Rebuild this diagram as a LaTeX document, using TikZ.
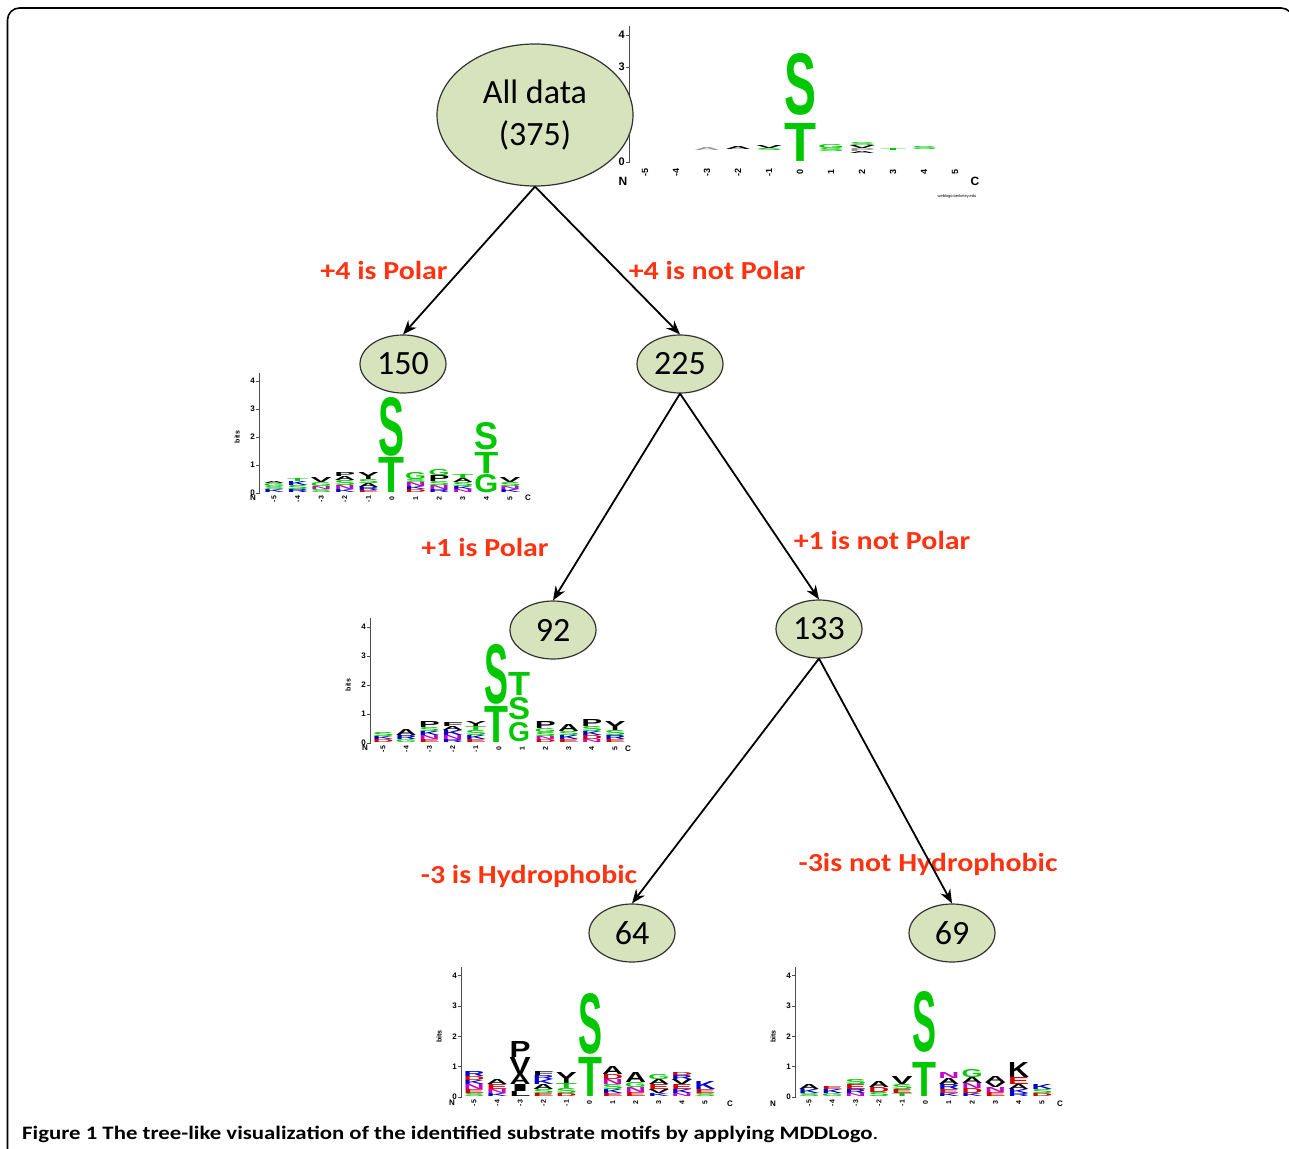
\documentclass[tikz,border=0pt]{standalone}
\usepackage{fontspec}
\setmainfont{Carlito}
\newfontfamily\logof{Liberation Sans}
\usetikzlibrary{shapes.geometric,arrows.meta}
\definecolor{nodefill}{RGB}{215,227,188}
\definecolor{lblred}{RGB}{255,51,17}
\definecolor{lgreen}{RGB}{0,200,0}
\definecolor{lblue}{RGB}{0,0,210}
\definecolor{lred}{RGB}{210,0,0}
\definecolor{lmag}{RGB}{200,0,200}
\definecolor{lgray}{RGB}{150,150,150}
\newcommand\Lg[6]{\node[anchor=south,inner sep=0pt,text=#5] at (#1,#2) {\resizebox{#3pt}{#4pt}{\logof\bfseries #6}};}
\newcommand\stk[4]{\xdef\cury{#2}\foreach \Hh/\Cc/\Ll in {#4}{\node[anchor=south,inner sep=0pt,text=\Cc] at (#1,\cury) {\resizebox{#3pt}{\Hh pt}{\logof\bfseries\Ll}};\pgfmathsetmacro\tmpy{\cury-\Hh}\xdef\cury{\tmpy}}}
\newcommand\logoaxes[6]{%
 \draw[lax] (#1,#2+1) -- (#1,#2-4.3*#3);
 \foreach \k in {0,...,4}{\draw[lax] (#1,#2-\k*#3) -- ++(-3,0);
   \node[tlab] at (#1-4,#2-\k*#3) {\k};}
 \node[blab] at (#1-22,#2-2*#3) {bits};
 \foreach \i [count=\j from 0] in {-5,...,5}{\node[clab] at (#4+\j*#5-5*#5,#2+#6) {\i};}
}
\tikzset{
 lax/.style={line width=0.8pt, draw=black!70},
 tlab/.style={anchor=east, inner sep=0pt, font=\logof\bfseries\fontsize{8}{8}\selectfont},
 blab/.style={rotate=90, inner sep=0pt, font=\logof\bfseries\fontsize{7}{7}\selectfont},
 clab/.style={rotate=90, inner sep=0pt, font=\logof\bfseries\fontsize{7}{7}\selectfont},
 nclab/.style={inner sep=0pt, font=\logof\bfseries\fontsize{8}{8}\selectfont},
 tnode/.style={ellipse, draw=black!80, line width=1.2pt, fill=nodefill, inner sep=0pt, font=\fontsize{34}{42}\selectfont, align=center},
 small/.style={tnode, minimum width=86pt, minimum height=58pt},
 lab/.style={text=lblred, inner sep=0pt, font=\bfseries\fontsize{26}{26}\selectfont},
 arr/.style={-{Stealth[length=14pt,width=11pt]}, line width=1.8pt},
}
\begin{document}
\begin{tikzpicture}[x=1pt,y=-1pt]
\useasboundingbox (0,0) rectangle (1289,1148);
\begin{scope}
\clip (0,0) rectangle (1289,1148);
\draw[line width=1.6pt, rounded corners=12pt] (7.5,8) rectangle (1293,1175);
\end{scope}
% ---------- logo 1 (All data)
\begin{scope}[tlab/.style={anchor=east, inner sep=0pt, font=\logof\bfseries\fontsize{11}{11}\selectfont},
  clab/.style={rotate=90, inner sep=0pt, font=\logof\bfseries\fontsize{9}{9}\selectfont}]
\logoaxes{629}{162}{31.7}{800}{31}{10}
\end{scope}
\node[inner sep=0pt, font=\logof\bfseries\fontsize{12}{12}\selectfont] (n1) at (623,181) {N};
\node[inner sep=0pt, font=\logof\bfseries\fontsize{12}{12}\selectfont] (c1) at (975,181) {C};
\node[inner sep=0pt, font=\logof\fontsize{4}{4}\selectfont] (w1) at (957,196) {weblogo.berkeley.edu};
\stk{707}{151}{26}{3/lgray/A}
\stk{738}{150}{26}{3/black/A}
\stk{769}{151}{26}{2/lgreen/S,3/black/V}
\Lg{800}{162}{32}{38}{lgreen}{T}
\Lg{800}{116}{32}{61}{lgreen}{S}
\stk{831}{152}{26}{3/lgreen/S,4/lgreen/G}
\stk{862}{154}{26}{2/black/A,3/lgray/P,3/black/V,3/lgreen/S}
\stk{893}{151}{26}{2/lgreen/T}
\stk{924}{150}{26}{3/lgreen/S}
% ---------- logo 2 (150)
\logoaxes{259}{493}{28}{392}{23.6}{6}
\node[nclab] (n2) at (253,498) {N};
\node[nclab] (c2) at (528,498) {C};
\stk{274}{493}{21}{3/lblue/K,3/lgreen/S,3/lgreen/G,2/black/A}
\stk{297.6}{493}{21}{3/lblue/R,4/lgreen/S,4/lblue/K,3/lgreen/T}
\stk{321.2}{493}{21}{3/lgreen/S,3/lmag/N,4/lgreen/G,5/black/V}
\stk{344.8}{493}{21}{3/lblue/K,4/lmag/N,5/lgreen/S,4/black/A,4/black/P}
\stk{368.4}{493}{21}{2/lred/E,3/lblue/R,4/black/A,4/lgreen/S,7/black/Y}
\Lg{391}{493}{26}{35}{lgreen}{T}
\Lg{391}{457}{26}{58}{lgreen}{S}
\stk{415.6}{493}{21}{3/lred/D,3/lblue/K,4/lmag/N,3/lgreen/S,7/lgreen/G}
\stk{439.2}{493}{21}{3/lblue/R,4/lmag/N,4/lgreen/S,6/black/P,6/lgreen/G}
\stk{462.8}{493}{21}{3/lmag/N,3/lblue/K,4/lgreen/S,4/black/A,4/lgreen/T}
\Lg{486.4}{493}{24}{18}{lgreen}{G}
\Lg{486.4}{474}{24}{21}{lgreen}{T}
\Lg{486.4}{450}{24}{27}{lgreen}{S}
\stk{510}{493}{21}{3/lblue/K,3/lmag/N,4/lgreen/S,5/black/V}
% ---------- logo 3 (92)
\logoaxes{370}{743}{29}{499}{23.2}{6}
\node[nclab] (n3) at (365,748) {N};
\node[nclab] (c3) at (628,749) {C};
\stk{383}{743}{21}{3/lred/D,3/lblue/K,4/lgreen/S}
\stk{406.2}{743}{21}{3/lgreen/G,4/lblue/R,6/black/A}
\stk{429.4}{743}{21}{3/lred/E,4/lmag/N,4/lblue/K,4/lgreen/S,6/black/P}
\stk{452.6}{743}{21}{3/lblue/R,4/lmag/N,5/lblue/K,4/black/A,4/black/F}
\stk{475.8}{743}{21}{3/lred/E,4/lblue/K,5/lgreen/S,4/lgreen/T,5/black/Y}
\Lg{496}{743}{24}{36}{lgreen}{T}
\Lg{496}{705}{24}{59}{lgreen}{S}
\Lg{519}{742}{22}{19}{lgreen}{G}
\Lg{519}{720}{22}{22}{lgreen}{S}
\Lg{519}{696}{22}{23}{lgreen}{T}
\stk{545.4}{743}{21}{3/lred/D,3/lmag/N,4/lgreen/S,4/lgreen/G,7/black/P}
\stk{568.6}{743}{21}{3/lred/E,4/lblue/K,4/lgreen/S,7/black/A}
\stk{591.8}{743}{21}{3/lmag/N,4/lred/D,4/lblue/K,5/lgreen/S,7/black/P}
\stk{615}{743}{21}{3/lred/E,4/lblue/R,5/lgreen/S,9/black/Y}
% ---------- logo 4 (64)
\logoaxes{461}{1097}{30.3}{589.5}{23.1}{6}
\node[nclab] (n4) at (452,1103) {N};
\node[nclab] (c4) at (730,1104) {C};
\stk{474}{1097}{21}{3/lgreen/S,4/lred/E,5/lmag/N,4/lblue/K,4/lred/D,5/lblue/R}
\stk{497.1}{1097}{21}{3/lblue/K,4/lmag/N,5/lred/E,5/black/A}
\stk{520.2}{1097}{21}{5/black/L,7/black/I,10/black/A,17/black/V,16/black/P}
\stk{543.3}{1097}{21}{3/lred/E,4/lgreen/S,5/black/A,5/lblue/K,4/lblue/R,4/black/F}
\stk{566.4}{1097}{21}{3/lred/D,5/lgreen/S,5/lgreen/T,11/black/Y}
\Lg{590}{1097}{24}{39}{lgreen}{T}
\Lg{590}{1055}{24}{60}{lgreen}{S}
\stk{612.6}{1097}{21}{3/lred/E,4/lblue/K,5/lgreen/S,5/lmag/N,5/lred/D,8/black/A}
\stk{635.7}{1097}{21}{4/lred/E,5/lmag/N,5/lgreen/G,10/black/A}
\stk{658.8}{1097}{21}{3/lblue/K,4/black/V,5/lred/E,5/black/A,5/lgreen/G}
\stk{681.9}{1097}{21}{3/lmag/N,4/lblue/K,5/lred/E,5/black/V,4/lblue/R,3/lred/D}
\stk{705}{1097}{21}{3/lgreen/S,4/lred/E,8/lblue/K}
% ---------- logo 5 (69)
\logoaxes{795}{1097}{30.3}{925.5}{23.3}{6}
\node[nclab] (n5) at (773,1104) {N};
\node[nclab] (c5) at (1060,1104) {C};
\stk{809}{1097}{21}{3/lgreen/S,4/lblue/K,5/black/A}
\stk{832.3}{1097}{21}{3/lgreen/G,4/lblue/K,3/lred/E}
\stk{855.6}{1097}{21}{3/lmag/N,4/lblue/R,5/lred/E,5/lgreen/S}
\stk{878.9}{1097}{21}{4/lgreen/S,5/lred/D,6/black/A}
\stk{902.2}{1097}{21}{3/lgreen/T,4/lred/E,5/lgreen/S,8/black/V}
\Lg{924}{1097}{24}{34}{lgreen}{T}
\Lg{924}{1053}{24}{60}{lgreen}{S}
\stk{948.8}{1097}{21}{3/lblue/K,4/lred/E,5/lblue/R,6/black/A,6/lmag/N}
\stk{972.1}{1097}{21}{3/lblue/K,5/lred/D,5/lmag/N,6/black/A,8/lgreen/G}
\stk{995.4}{1097}{21}{4/lred/E,5/lmag/N,5/black/V,6/black/A}
\stk{1018.7}{1097}{21}{3/lblue/R,4/lblue/K,5/black/A,7/lred/E,15/black/K}
\stk{1042}{1097}{21}{3/lred/D,4/lgreen/S,5/lblue/K}
% ---------- labels
\node[lab] (l1) at (384,270) {\scalebox{1.15}[1]{+4 is Polar}};
\node[lab] (l2) at (717,270) {\scalebox{1.15}[1]{+4 is not Polar}};
\node[lab] (l3) at (485,547) {\scalebox{1.15}[1]{+1 is Polar}};
\node[lab] (l4) at (882,540) {\scalebox{1.15}[1]{+1 is not Polar}};
\node[lab] (l5) at (529,876) {\scalebox{1.15}[1]{-3 is Hydrophobic}};
\node[lab] (l6) at (928,864) {\scalebox{1.15}[1]{-3is not Hydrophobic}};
% ---------- tree nodes
\node[tnode, minimum width=196pt, minimum height=142pt] (all) at (535,115) {All data\\(375)};
\node[small] (n150) at (403,364) {150};
\node[small] (n225) at (680,364) {225};
\node[small] (n92) at (553,630) {92};
\node[small] (n133) at (819,629) {133};
\node[small] (n64) at (632,933) {64};
\node[small] (n69) at (952,933) {69};
\draw[arr] (all.south) -- (n150.north);
\draw[arr] (all.south) -- (n225.north);
\draw[arr] (n225.south) -- (n92.north);
\draw[arr] (n225.south) -- (n133.north);
\draw[arr] (n133.south) -- (n64.north);
\draw[arr] (n133.south) -- (n69.north);
% ---------- caption
\node[anchor=base west, inner sep=0pt, font=\bfseries\fontsize{19}{19}\selectfont] (cap) at (22,1139) {\scalebox{1.2}[1]{Figure 1 The tree-like visualization of the identified substrate motifs by applying MDDLogo{\mdseries .}}};
\end{tikzpicture}
\end{document}
